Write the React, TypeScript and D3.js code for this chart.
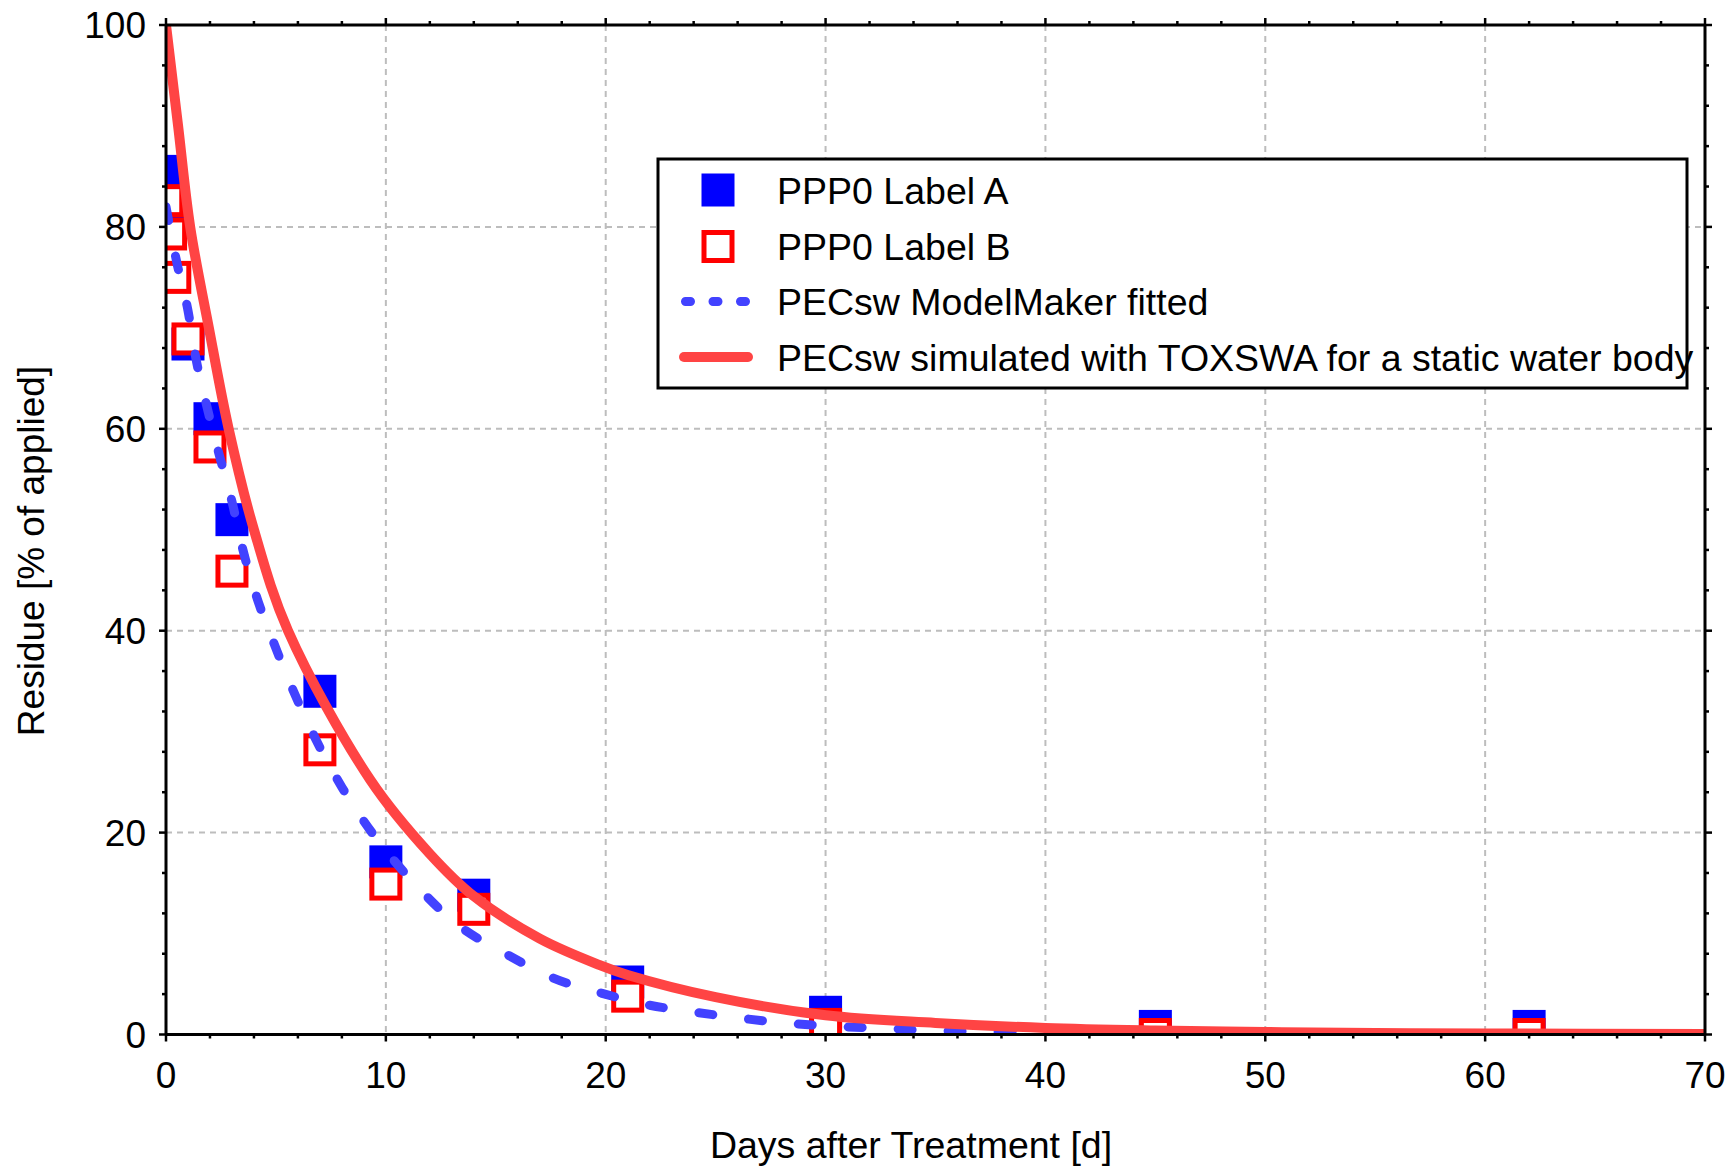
import React from "react";
import * as d3 from "d3";

const seriesA_days = [0.08, 0.21, 0.34, 1, 2, 3, 7, 10, 14, 21, 30, 45, 62];
const seriesA_vals = [85.5, 83.7, 82.3, 68.4, 61, 51, 34, 17.1, 13.8, 5.2, 2.2, 0.8, 0.8];

const seriesB_days = [0.08, 0.21, 0.4, 1, 2, 3, 7, 10, 14, 21, 30, 45, 62];
const seriesB_vals = [82.6, 79.3, 75.0, 68.9, 58.2, 45.9, 28.2, 14.9, 12.4, 3.8, 1.0, 0, 0];

const fitted_days = [0, 0.5, 1.0, 1.35, 1.85, 2.4, 3.0, 3.5, 4.1, 4.9, 5.8, 6.8, 8, 9.4, 11.2, 13.25, 15.45, 17.6, 19.8, 22, 24.1, 26.2, 28.4, 30.5, 32.7, 34.8, 37, 40, 45, 50, 60, 70];
const fitted_vals = [82, 76.4, 71.7, 67.1, 62.3, 57.6, 52.8, 48, 43.5, 38.8, 34, 29.3, 24.5, 19.9, 15.2, 10.9, 8.0, 5.6, 4.1, 2.9, 2.2, 1.6, 1.1, 0.8, 0.6, 0.4, 0.3, 0.15, 0.05, 0, 0, 0];

const toxswa_days = [0, 0.55, 1.1, 1.95, 2.85, 4.0, 5.55, 9.3, 12, 14, 17, 19.7, 21, 25, 30, 35, 40, 45, 50, 55, 60, 70];
const toxswa_vals = [100, 90, 80, 70, 60, 50, 40, 25.2, 17.9, 13.7, 9.5, 6.9, 5.9, 3.7, 1.9, 1.15, 0.65, 0.4, 0.25, 0.15, 0.1, 0.05];

const xTicks = [0, 10, 20, 30, 40, 50, 60, 70];
const yTicks = [0, 20, 40, 60, 80, 100];

const legendLabels = [
  "PPP0 Label A",
  "PPP0 Label B",
  "PECsw ModelMaker fitted",
  "PECsw simulated with TOXSWA for a static water body",
];

const W = 1731;
const H = 1166;
const L = 166, R = 1705, T = 25, B = 1034.5;
const FONT = "'Liberation Sans', Arial, Helvetica, sans-serif";

export default function App() {
  const x = d3.scaleLinear().domain([0, 70]).range([L, R]);
  const y = d3.scaleLinear().domain([0, 100]).range([B, T]);

  const xMinor = d3.range(0, 70.001, 2);
  const yMinor = d3.range(0, 100.001, 4);

  const fittedLine = d3
    .line<[number, number]>()
    .x((d) => x(d[0]))
    .y((d) => y(d[1]))
    .curve(d3.curveMonotoneX);

  const toxLine = d3
    .line<[number, number]>()
    .x((d) => x(d[0]))
    .y((d) => y(d[1]))
    .curve(d3.curveCatmullRom.alpha(0.5));

  const fitted = fitted_days.map((d, i) => [d, fitted_vals[i]] as [number, number]);
  const toxswa = toxswa_days.map((d, i) => [d, toxswa_vals[i]] as [number, number]);

  const blue = "#0000ff";
  const red = "#ff0000";
  const dashBlue = "#4242ff";
  const lineRed = "#ff4444";
  const sq = 33;

  const legX = 658, legY = 159, legW = 1029, legH = 229;
  const rowY = [190, 246.5, 301.5, 357];
  const mX = 718;
  const tX = 777;

  return (
    <svg width={W} height={H} style={{ position: "absolute", left: 0, top: 0, background: "#fff" }} fontFamily={FONT}>
      <defs>
        <clipPath id="plotclip">
          <rect x={L} y={T} width={R - L} height={B - T} />
        </clipPath>
      </defs>
      <rect x={0} y={0} width={W} height={H} fill="#fff" />
      <g stroke="#bdbdbd" strokeWidth={2} strokeDasharray="6,5">
        {xTicks.filter((t) => t > 0 && t < 70).map((t) => (
          <line key={"gx" + t} x1={x(t)} x2={x(t)} y1={T} y2={B} />
        ))}
        {yTicks.filter((t) => t > 0 && t < 100).map((t) => (
          <line key={"gy" + t} x1={L} x2={R} y1={y(t)} y2={y(t)} />
        ))}
      </g>
      <g clipPath="url(#plotclip)">
        {seriesA_days.map((d, i) => (
          <rect key={"a" + i} x={x(d) - sq / 2} y={y(seriesA_vals[i]) - sq / 2} width={sq} height={sq} fill={blue} />
        ))}
        {seriesB_days.map((d, i) => (
          <rect key={"b" + i} x={x(d) - sq / 2 + 2.5} y={y(seriesB_vals[i]) - sq / 2 + 2.5} width={sq - 5} height={sq - 5} fill="#fff" stroke={red} strokeWidth={5} />
        ))}
        <path d={fittedLine(fitted) || ""} fill="none" stroke={dashBlue} strokeWidth={9} strokeDasharray="14,36" strokeLinecap="round" />
        <path d={toxLine(toxswa) || ""} fill="none" stroke={lineRed} strokeWidth={10} strokeLinejoin="round" />
      </g>
      <g stroke="#000" strokeWidth={3} fill="none">
        <line x1={L} x2={R} y1={B} y2={B} />
        <line x1={L} x2={R} y1={T} y2={T} />
        <line x1={L} x2={L} y1={T} y2={B} />
        <line x1={R} x2={R} y1={T} y2={B} />
      </g>
      <g stroke="#000" strokeWidth={2.5}>
        {xMinor.map((t) => {
          const major = t % 10 === 0;
          const len = major ? 7 : 4;
          return (
            <g key={"xt" + t}>
              <line x1={x(t)} x2={x(t)} y1={B} y2={B + len} />
              <line x1={x(t)} x2={x(t)} y1={T} y2={T - len} />
            </g>
          );
        })}
        {yMinor.map((t) => {
          const major = t % 20 === 0;
          const len = major ? 7 : 4;
          return (
            <g key={"yt" + t}>
              <line x1={L} x2={L - len} y1={y(t)} y2={y(t)} />
              <line x1={R} x2={R + len} y1={y(t)} y2={y(t)} />
            </g>
          );
        })}
      </g>
      <g fontSize={37} fill="#000">
        {xTicks.map((t) => (
          <text key={"xl" + t} x={x(t)} y={1088} textAnchor="middle">{t}</text>
        ))}
        {yTicks.map((t) => (
          <text key={"yl" + t} x={146} y={y(t)} dy="0.36em" textAnchor="end">{t}</text>
        ))}
      </g>
      <text x={911} y={1158} textAnchor="middle" fontSize={37.5}>Days after Treatment [d]</text>
      <text transform={`translate(44, 551) rotate(-90)`} textAnchor="middle" fontSize={37}>Residue [% of applied]</text>
      <rect x={legX} y={legY} width={legW} height={legH} fill="#fff" stroke="#000" strokeWidth={3} />
      <rect x={mX - sq / 2} y={rowY[0] - sq / 2} width={sq} height={sq} fill={blue} />
      <rect x={mX - sq / 2 + 2.5} y={rowY[1] - sq / 2 + 2.5} width={sq - 5} height={sq - 5} fill="#fff" stroke={red} strokeWidth={5} />
      <line x1={685.5} x2={746} y1={rowY[2]} y2={rowY[2]} stroke={dashBlue} strokeWidth={9} strokeDasharray="5,22.5" strokeLinecap="round" />
      <line x1={684} x2={748} y1={rowY[3]} y2={rowY[3]} stroke={lineRed} strokeWidth={10} strokeLinecap="round" />
      <g fontSize={37.5} fill="#000">
        {legendLabels.map((s, i) => (
          <text key={"lg" + i} x={tX} y={rowY[i]} dy="0.36em">{s}</text>
        ))}
      </g>
    </svg>
  );
}
